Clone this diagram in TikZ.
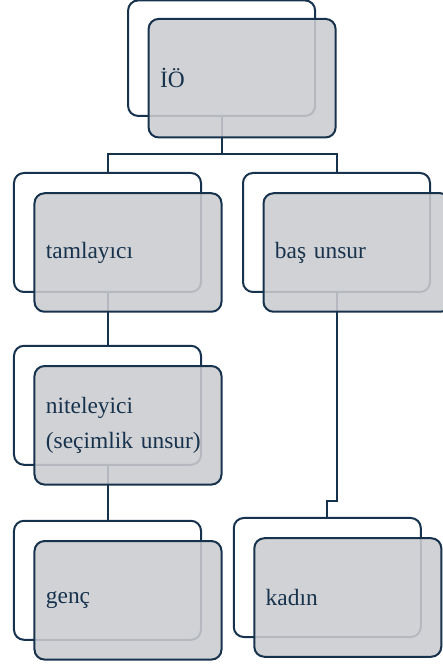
\documentclass[tikz,border=0pt]{standalone}
\usepackage{fontspec}
\setmainfont{Liberation Serif}
\usetikzlibrary{positioning,calc}
\definecolor{navy}{RGB}{23,50,77}
\definecolor{boxgray}{RGB}{203,204,207}

\begin{document}
\begin{tikzpicture}[
        x=1bp, y=1bp,
        font=\fontsize{23.5}{35}\selectfont,
        backbox/.style={draw=navy, line width=2bp, rounded corners=10bp, rectangle, minimum width=187bp, minimum height=119bp},
        frontbox/.style={draw=navy, line width=2bp, rounded corners=10bp, rectangle, fill=boxgray, fill opacity=0.88, draw opacity=1, text opacity=1,
            text=navy, minimum width=187bp, minimum height=118.5bp, inner xsep=11.4bp, text width=164.2bp, align=left,
            xshift=20.5bp, yshift=-20bp},
        link/.style={draw=navy, line width=2bp}
    ]
    \useasboundingbox (0,0) rectangle (443,666);

    % Back frames
    \node[backbox, minimum height=115.5bp] (ioback) at (221.6,607.8) {};
    \node[backbox] (tamback) at (107.5,433.5) {};
    \node[backbox] (basback) at (336.5,433.5) {};
    \node[backbox] (nitback) at (107.5,260.7) {};
    \node[backbox] (gencback) at (107.5,85.7) {};
    \node[backbox] (kadinback) at (327.3,88.5) {};

    % Connectors
    \draw[link] (ioback.south) -- ++(0,-37.5) coordinate (bar);
    \draw[link] (tamback.north) |- (bar) -| (basback.north);
    \draw[link] (tamback.south) -- (nitback.north);
    \draw[link] (nitback.south) -- (gencback.north);
    \draw[link] (basback.south) -- ++(0,-208.5) -| (kadinback.north);

    % Front boxes
    \node[frontbox] (io) at (ioback) {İÖ};
    \node[frontbox] (tam) at (tamback) {tamlayıcı};
    \node[frontbox] (bas) at (basback) {baş unsur};
    \node[frontbox] (nit) at (nitback) {niteleyici\\(seçimlik unsur)};
    \node[frontbox] (genc) at (gencback) {genç};
    \node[frontbox] (kadin) at (kadinback) {kadın};

\end{tikzpicture}
\end{document}
